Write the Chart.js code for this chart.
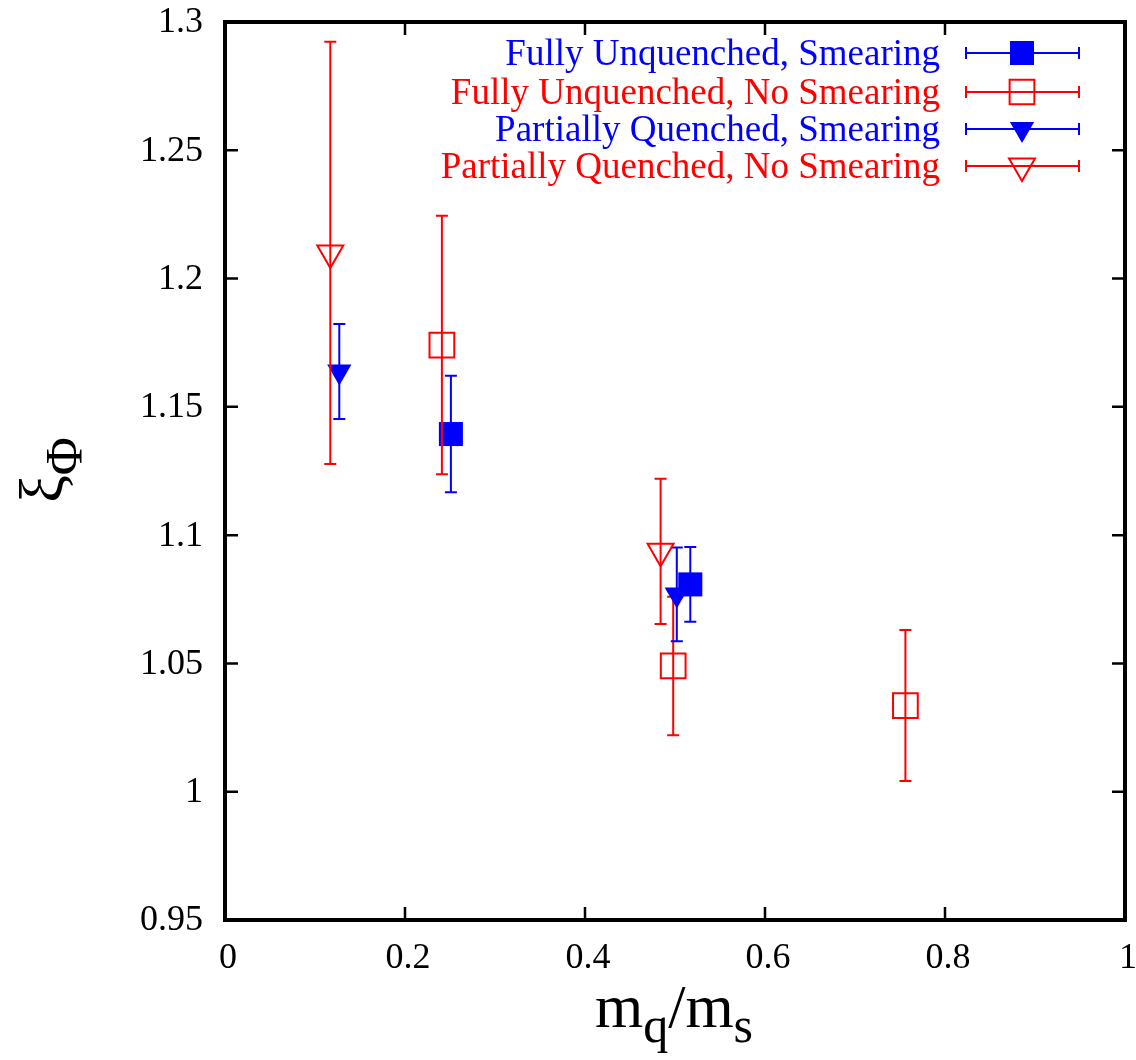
<!DOCTYPE html>
<html>
<head>
<meta charset="utf-8">
<script src="https://cdn.jsdelivr.net/npm/chart.js@4.4.0/dist/chart.umd.min.js"></script>
<style>
html,body{margin:0;padding:0;background:#fff;}
#wrap{width:1136px;height:1060px;position:relative;}
</style>
</head>
<body>
<div id="wrap"><canvas id="c" width="1136" height="1060"></canvas></div>
<script>
// ---- data ----
const seriesNames = [
  "Fully Unquenched, Smearing",
  "Fully Unquenched, No Smearing",
  "Partially Quenched, Smearing",
  "Partially Quenched, No Smearing"
];
const fuSmearX = [0.251, 0.517];
const fuSmearY = [1.1394, 1.0808];
const fuSmearErr = [0.0227, 0.0146];

const fuNoSmearX = [0.241, 0.498, 0.756];
const fuNoSmearY = [1.1741, 1.0490, 1.0336];
const fuNoSmearErr = [0.0504, 0.0270, 0.0294];

const pqSmearX = [0.127, 0.502];
const pqSmearY = [1.1638, 1.0769];
const pqSmearErr = [0.0185, 0.0183];

const pqNoSmearX = [0.117, 0.484];
const pqNoSmearY = [1.2100, 1.0937];
const pqNoSmearErr = [0.0823, 0.0283];

const xTickValues = [0, 0.2, 0.4, 0.6, 0.8, 1];
const xTickLabels = ["0", "0.2", "0.4", "0.6", "0.8", "1"];
const yTickValues = [0.95, 1, 1.05, 1.1, 1.15, 1.2, 1.25, 1.3];
const yTickLabels = ["0.95", "1", "1.05", "1.1", "1.15", "1.2", "1.25", "1.3"];

const BLUE = "#0000ff";
const RED = "#ff0000";
const FONT = '"Liberation Serif", "Times New Roman", serif';

function pts(xs, ys) { return xs.map((x, i) => ({x: x, y: ys[i]})); }

const errs = [fuSmearErr, fuNoSmearErr, pqSmearErr, pqNoSmearErr];

const styles = [
  {pointStyle: 'rect', rotation: 0, radius: 17, color: BLUE, fill: true},
  {pointStyle: 'rect', rotation: 0, radius: 17.5, color: RED, fill: false},
  {pointStyle: 'triangle', rotation: 180, radius: 14, color: BLUE, fill: true},
  {pointStyle: 'triangle', rotation: 180, radius: 15, color: RED, fill: false}
];
const allData = [
  pts(fuSmearX, fuSmearY),
  pts(fuNoSmearX, fuNoSmearY),
  pts(pqSmearX, pqSmearY),
  pts(pqNoSmearX, pqNoSmearY)
];

const datasets = allData.map((d, i) => ({
  label: seriesNames[i],
  data: d,
  order: 4 - i,
  pointStyle: styles[i].pointStyle,
  rotation: styles[i].rotation,
  pointRadius: styles[i].radius,
  pointHoverRadius: styles[i].radius,
  borderColor: styles[i].color,
  backgroundColor: styles[i].fill ? styles[i].color : 'rgba(0,0,0,0)',
  borderWidth: styles[i].fill ? 0 : 2,
  showLine: false,
  clip: false
}));

const CAP = 6;

const errorBars = {
  id: 'errorBars',
  beforeDatasetDraw(chart, args) {
    const i = args.index;
    const ctx = chart.ctx;
    const xs = chart.scales.x, ys = chart.scales.y;
    ctx.save();
    ctx.strokeStyle = styles[i].color;
    ctx.lineWidth = 2;
    allData[i].forEach((p, k) => {
      const px = xs.getPixelForValue(p.x);
      const top = ys.getPixelForValue(p.y + errs[i][k]);
      const bot = ys.getPixelForValue(p.y - errs[i][k]);
      ctx.beginPath();
      ctx.moveTo(px, top); ctx.lineTo(px, bot);
      ctx.moveTo(px - CAP, top); ctx.lineTo(px + CAP, top);
      ctx.moveTo(px - CAP, bot); ctx.lineTo(px + CAP, bot);
      ctx.stroke();
    });
    ctx.restore();
  }
};

const frame = {
  id: 'frame',
  afterDraw(chart) {
    const ctx = chart.ctx;
    const xs = chart.scales.x, ys = chart.scales.y;
    const L = xs.getPixelForValue(0), R = xs.getPixelForValue(1);
    const T = ys.getPixelForValue(1.3), B = ys.getPixelForValue(0.95);
    ctx.save();
    // ticks
    ctx.strokeStyle = '#000';
    ctx.lineWidth = 2.5;
    ctx.beginPath();
    xTickValues.forEach(v => {
      const px = xs.getPixelForValue(v);
      ctx.moveTo(px, B); ctx.lineTo(px, B - 13);
      ctx.moveTo(px, T); ctx.lineTo(px, T + 13);
    });
    yTickValues.forEach(v => {
      const py = ys.getPixelForValue(v);
      ctx.moveTo(L, py); ctx.lineTo(L + 13, py);
      ctx.moveTo(R, py); ctx.lineTo(R - 13, py);
    });
    ctx.stroke();
    // border
    ctx.lineWidth = 4;
    ctx.strokeRect(L, T, R - L, B - T);
    // tick labels
    ctx.fillStyle = '#000';
    ctx.font = '36px ' + FONT;
    ctx.textAlign = 'right';
    ctx.textBaseline = 'middle';
    yTickValues.forEach((v, k) => {
      ctx.fillText(yTickLabels[k], L - 22, ys.getPixelForValue(v) + 1);
    });
    ctx.textAlign = 'center';
    xTickValues.forEach((v, k) => {
      ctx.fillText(xTickLabels[k], xs.getPixelForValue(v) + 3, B + 39);
    });
    // x title m_q/m_s
    const parts = [
      {t: 'm', size: 62, dy: 0},
      {t: 'q', size: 50, dy: 15},
      {t: '/', size: 62, dy: 0},
      {t: 'm', size: 62, dy: 0},
      {t: 's', size: 50, dy: 15}
    ];
    ctx.textAlign = 'left';
    ctx.textBaseline = 'alphabetic';
    let total = 0;
    parts.forEach(p => { ctx.font = p.size + 'px ' + FONT; p.w = ctx.measureText(p.t).width; total += p.w; });
    let cx = 674 - total / 2;
    parts.forEach(p => {
      ctx.font = p.size + 'px ' + FONT;
      ctx.fillText(p.t, cx, 1027 + p.dy);
      cx += p.w;
    });
    // y title xi_Phi (rotated)
    ctx.save();
    ctx.translate(62, 470);
    ctx.rotate(-Math.PI / 2);
    ctx.font = '62px ' + FONT;
    const wXi = ctx.measureText('ξ').width;
    ctx.font = '52px ' + FONT;
    const wPhi = ctx.measureText('Φ').width;
    const start = -(wXi + wPhi) / 2;
    ctx.font = '62px ' + FONT;
    ctx.fillText('ξ', start, 0);
    ctx.font = '52px ' + FONT;
    ctx.fillText('Φ', start + wXi, 20);
    ctx.restore();
    // legend
    const rowY = [53, 92, 129, 166];
    ctx.font = '37px ' + FONT;
    ctx.textAlign = 'right';
    seriesNames.forEach((name, i) => {
      const y = rowY[i];
      ctx.fillStyle = styles[i].color;
      ctx.fillText(name, 940, y + 12);
      ctx.strokeStyle = styles[i].color;
      ctx.lineWidth = 2;
      ctx.beginPath();
      ctx.moveTo(966, y); ctx.lineTo(1079, y);
      ctx.moveTo(966, y - CAP); ctx.lineTo(966, y + CAP);
      ctx.moveTo(1079, y - CAP); ctx.lineTo(1079, y + CAP);
      ctx.stroke();
      ctx.fillStyle = styles[i].fill ? styles[i].color : 'rgba(0,0,0,0)';
      Chart.helpers.drawPoint(ctx, {
        pointStyle: styles[i].pointStyle,
        rotation: styles[i].rotation,
        radius: styles[i].radius,
        borderWidth: styles[i].fill ? 0 : 2
      }, 1022, y);
    });
    ctx.restore();
  }
};

new Chart(document.getElementById('c'), {
  type: 'scatter',
  data: {datasets: datasets},
  options: {
    responsive: false,
    animation: false,
    devicePixelRatio: 1,
    layout: {autoPadding: false, padding: {left: 225, right: 11, top: 22, bottom: 140}},
    plugins: {legend: {display: false}, tooltip: {enabled: false}},
    scales: {
      x: {type: 'linear', min: 0, max: 1, display: false},
      y: {type: 'linear', min: 0.95, max: 1.3, display: false}
    }
  },
  plugins: [errorBars, frame]
});
</script>
</body>
</html>
